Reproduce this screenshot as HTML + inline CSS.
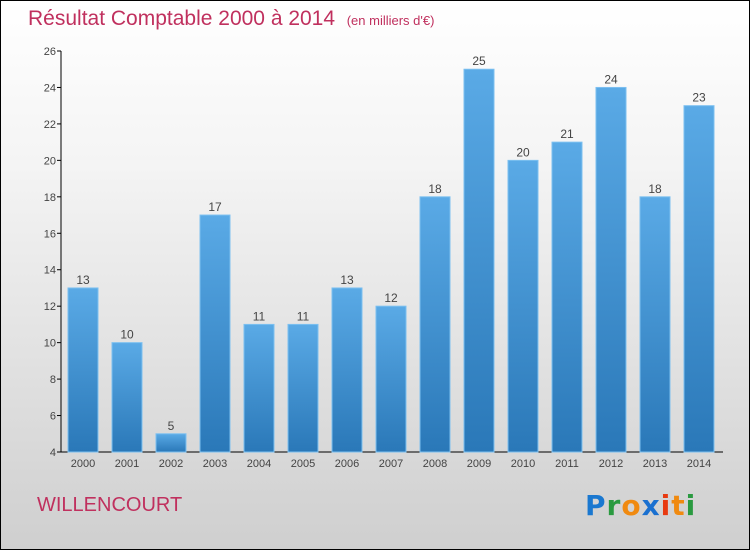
<!DOCTYPE html>
<html><head><meta charset="utf-8"><style>
body{margin:0;width:750px;height:550px;overflow:hidden;font-family:"Liberation Sans",sans-serif}
#wrap{position:relative;width:748px;height:548px;border:1px solid #000;background:linear-gradient(#fff 0%,#f4f4f4 30%,#cfcfcf 100%)}
#title{position:absolute;left:27px;top:6px;font-size:21px;color:#c0305e;white-space:nowrap}
#title span{font-size:13px}
#city{position:absolute;left:36px;top:493px;font-size:20px;color:#c0305e}
#logo{position:absolute;left:584px;top:488px;font-size:28px;font-weight:bold;font-family:"DejaVu Sans",sans-serif;letter-spacing:1px}
</style></head><body>
<div id="wrap">
<div id="title">Résultat Comptable 2000 à 2014 &nbsp;<span>(en milliers d'€)</span></div>
<svg id="chart" width="750" height="550" style="position:absolute;left:0;top:0">
<defs><linearGradient id="bg" x1="0" y1="0" x2="0" y2="1"><stop offset="0" stop-color="#5aaae6"/><stop offset="1" stop-color="#2a78b8"/></linearGradient></defs>
</svg>
<div id="city">WILLENCOURT</div>
<div id="logo"><span style="color:#1a78d0">P</span><span style="color:#2a9a40">r</span><span style="color:#f08a10">o</span><span style="color:#1a70d0">x</span><span style="color:#e83a10">i</span><span style="color:#f08a10">t</span><span style="color:#2a9a40">i</span></div>
</div>
<script>
const years=["2000","2001","2002","2003","2004","2005","2006","2007","2008","2009","2010","2011","2012","2013","2014"];
const values=[13,10,5,17,11,11,13,12,18,25,20,21,24,18,23];
const yTicks=[4,6,8,10,12,14,16,18,20,22,24,26];
const svg=document.getElementById('chart');
const NS='http://www.w3.org/2000/svg';
const yMin=4,yMax=26,yTop=50,yBot=451;
const y=v=>yBot-(v-yMin)/(yMax-yMin)*(yBot-yTop);
const x=i=>82+i*44;
function mk(t,a){const e=document.createElementNS(NS,t);for(const k in a)e.setAttribute(k,a[k]);svg.appendChild(e);return e;}
let ax=mk('line',{x1:60,y1:yTop,x2:60,y2:yBot,stroke:'#000'});


let bx=mk('line',{x1:60,y1:yBot,x2:722,y2:yBot,stroke:'#000'});


yTicks.forEach(t=>{
 let l=mk('line',{x1:56,y1:y(t),x2:60,y2:y(t),stroke:'#000'});
 
 
 let tx=mk('text',{x:55,y:y(t)+4,'text-anchor':'end','font-size':11,fill:'#444'});
 tx.textContent=t;
 
 
});
values.forEach((v,i)=>{
 let r=mk('rect',{x:x(i)-15,y:y(v),width:30,height:yBot-y(v),fill:'url(#bg)',stroke:'#7cc0f0','stroke-width':1});
 
 
 let vl=mk('text',{x:x(i),y:y(v)-4,'text-anchor':'middle','font-size':12,fill:'#444'});
 vl.textContent=v;
 
 
 let yl=mk('text',{x:x(i),y:466,'text-anchor':'middle','font-size':11,fill:'#444'});
 yl.textContent=years[i];
 
 
});
</script>
</body></html>
